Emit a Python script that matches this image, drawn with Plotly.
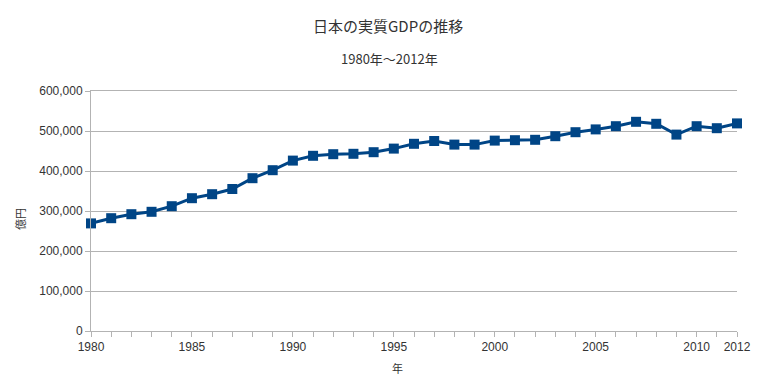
import plotly.graph_objects as go

years = list(range(1980, 2013))
gdp = [269000, 282000, 292000, 298000, 312000, 332000, 342000, 355000, 382000, 402000,
       426000, 438000, 442000, 443000, 447000, 456000, 468000, 475000, 466000, 466000,
       476000, 477000, 478000, 487000, 497000, 504000, 512000, 523000, 518000, 491000,
       512000, 507000, 519000]
x_labels = [1980, 1985, 1990, 1995, 2000, 2005, 2010, 2012]
y_ticks = [0, 100000, 200000, 300000, 400000, 500000, 600000]

title = "日本の実質GDPの推移"
subtitle = "1980年～2012年"

W, H = 768, 380
l, r, t, b = 91, 31, 91, 49
pw, ph = W - l - r, H - t - b


def px2paper(px, py):
    return (px - l) / pw, (H - b - py) / ph


def ann(text, px, py, size, angle=0):
    x, y = px2paper(px, py)
    return dict(text=text, x=x, y=y, xref="paper", yref="paper", showarrow=False,
                xanchor="center", yanchor="middle", textangle=angle,
                font=dict(family="Noto Sans CJK JP", size=size, color="#333333"))


fig = go.Figure()
fig.add_trace(go.Scatter(
    x=years, y=gdp, mode="lines+markers",
    line=dict(color="#004586", width=3),
    marker=dict(symbol="square", size=10, color="#004586"),
    cliponaxis=False, showlegend=False, hoverinfo="skip",
))

fig.update_layout(
    width=W, height=H,
    margin=dict(l=l, r=r, t=t, b=b, autoexpand=False),
    paper_bgcolor="white", plot_bgcolor="white",
    font=dict(family="Liberation Sans, Arial, sans-serif", size=12, color="#333333"),
    annotations=[
        ann(title, 388, 25, 15),
        ann(subtitle, 389, 58, 13),
        ann("億円", 20, 219, 11, -90),
        ann("年", 397, 368, 11),
    ],
)

fig.update_xaxes(
    range=[1980, 2012],
    tickvals=years,
    ticktext=[str(y) if y in x_labels else "" for y in years],
    ticks="outside", ticklen=5, tickcolor="#b3b3b3",
    showgrid=False, showline=True, linecolor="#b3b3b3", mirror=True,
    zeroline=False, tickangle=0,
)
fig.update_yaxes(
    range=[0, 600000],
    tickvals=y_ticks,
    ticktext=[f"{v:,}" for v in y_ticks],
    ticks="outside", ticklen=5, tickcolor="#b3b3b3",
    showgrid=True, gridcolor="#b3b3b3", showline=True, linecolor="#b3b3b3",
    zeroline=False,
)

fig.write_html("out.html", config={"displayModeBar": False},
               post_script="document.body.style.margin='0';")
